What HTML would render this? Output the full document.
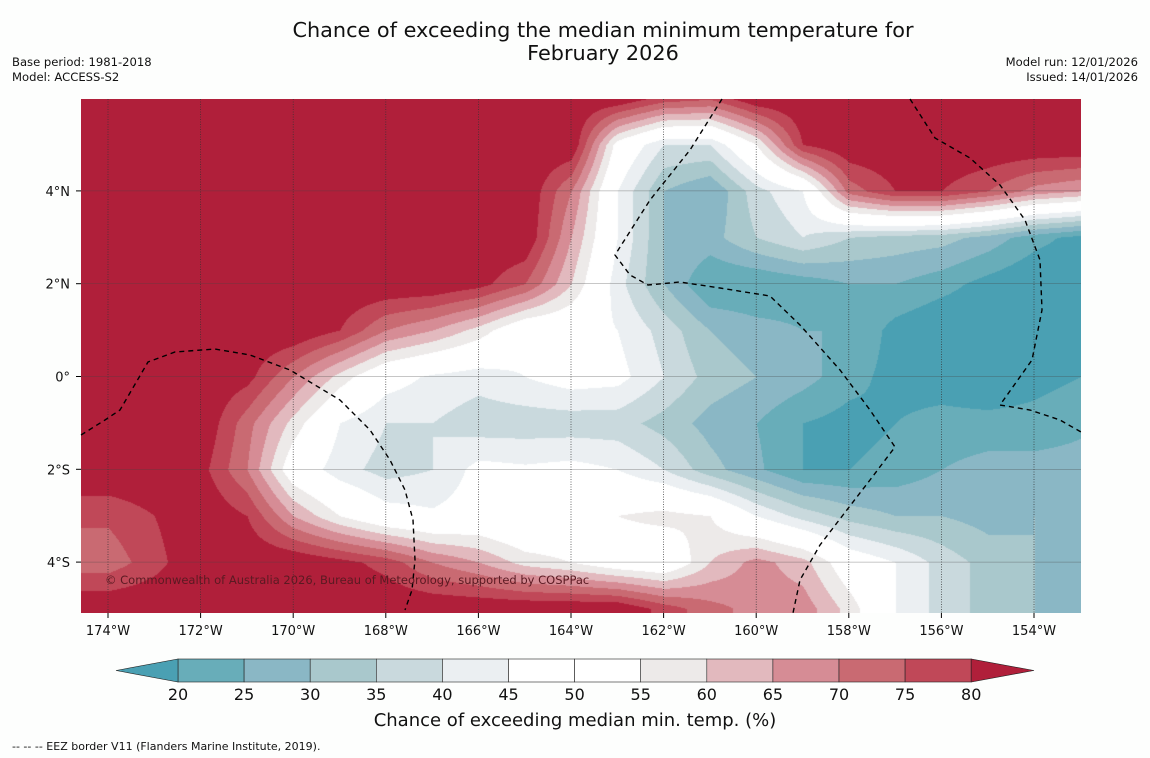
<!DOCTYPE html>
<html><head><meta charset="utf-8">
<style>
body{margin:0;background:#fdfefd;font-family:"DejaVu Sans","Liberation Sans",sans-serif;}
#wrap{position:relative;width:1150px;height:758px;overflow:hidden;background:#fdfefd;}
.t{position:absolute;white-space:nowrap;color:#111;}
</style></head>
<body>
<div id="wrap">
<div class="t" style="left:0;width:1206px;top:19px;text-align:center;font-size:20.8px;line-height:23px;">Chance of exceeding the median minimum temperature for<br>February 2026</div>
<div class="t" style="left:12px;top:55px;font-size:11.6px;line-height:15px;">Base period: 1981-2018<br>Model: ACCESS-S2</div>
<div class="t" style="right:12px;top:55px;font-size:11.6px;line-height:15px;text-align:right;">Model run: 12/01/2026<br>Issued: 14/01/2026</div>
<canvas id="map" width="1000" height="514" style="position:absolute;left:81px;top:99px;"></canvas>
<svg id="ov" width="1150" height="758" style="position:absolute;left:0;top:0;"></svg>
<div class="t" style="left:105px;top:573px;font-size:11.5px;color:#5a1a22;">© Commonwealth of Australia 2026, Bureau of Meteorology, supported by COSPPac</div>
<div class="t" style="left:0;width:1150px;top:710px;text-align:center;font-size:18px;">Chance of exceeding median min. temp. (%)</div>
<div class="t" style="left:12px;top:740px;font-size:11px;">--  --  -- EEZ border V11 (Flanders Marine Institute, 2019).</div>
</div>
<script>
const levels=[20,25,30,35,40,45,50,55,60,65,70,75,80];
const colors=["#4aa0b3","#68adb9","#8ab7c5","#a9c8cc","#c9d9dd","#ebeff2","#ffffff","#ffffff","#edeae9","#e2b9be","#d68c95","#c96a72","#c04858","#b01f3a"];
const lons=[-175,-174,-173,-172,-171,-170,-169,-168,-167,-166,-165,-164,-163,-162,-161,-160,-159,-158,-157,-156,-155,-154,-153];
const lats=[6,5,4,3,2,1,0,-1,-2,-3,-4,-5];
const row6=[85,85,85,85,85,85,85,85,85,85,85,85,85,78,76,85,85,85,85,85,85,85,85];
const row5=[85,85,85,85,85,85,85,85,85,85,85,85,52,40,40,55,80,85,85,85,85,85,85];
const row4=[85,85,85,85,85,85,85,85,85,85,85,70,45,30,25,38,45,72,80,80,75,68,65];
const row3=[85,85,85,85,85,85,85,85,85,85,85,65,45,30,28,35,40,35,33,32,28,22,18];
const row2=[85,85,85,85,85,85,85,85,85,82,75,60,42,30,20,20,22,25,25,22,18,15,15];
const row1=[85,85,85,85,85,85,80,70,65,58,48,48,45,38,30,27,25,25,18,15,15,15,15];
const row0=[85,85,85,85,82,70,58,48,44,42,45,48,47,40,33,30,27,22,18,17,15,18,20];
const rowm1=[85,85,85,85,72,58,45,40,40,37,37,37,37,33,28,25,20,18,20,22,22,22,24];
const rowm2=[85,85,85,82,70,50,42,38,40,47,46,47,45,40,32,26,20,20,22,25,27,27,27];
const rowm3=[76,76,80,85,80,65,55,48,46,48,45,47,55,57,55,45,38,33,30,30,28,30,27];
const rowm4=[72,72,78,85,85,85,82,78,70,65,58,55,50,48,60,67,62,50,45,38,33,30,28];
const rowm5=[85,85,85,85,85,85,85,85,85,85,85,85,85,78,72,68,68,58,45,38,33,30,25];
const grid=[row6,row5,row4,row3,row2,row1,row0,rowm1,rowm2,rowm3,rowm4,rowm5];
const lonTicks=[-174,-172,-170,-168,-166,-164,-162,-160,-158,-156,-154];
const latTicks=[4,2,0,-2,-4];

const X=lon=>108+(lon+174)*46.3;
const Y=lat=>376.5-lat*46.4;
function val(lon,lat){
  let fi=(lon-lons[0])/(lons[1]-lons[0]);let fj=(lats[0]-lat)/(lats[0]-lats[1]);
  fi=Math.max(0,Math.min(lons.length-1.001,fi));fj=Math.max(0,Math.min(lats.length-1.001,fj));
  const i=Math.floor(fi),j=Math.floor(fj),a=fi-i,b=fj-j;
  return grid[j][i]*(1-a)*(1-b)+grid[j][i+1]*a*(1-b)+grid[j+1][i]*(1-a)*b+grid[j+1][i+1]*a*b;
}
function col(v){let k=0;while(k<levels.length&&v>=levels[k])k++;return colors[k];}
const cv=document.getElementById('map'),ctx=cv.getContext('2d');
const img=ctx.createImageData(1000,514);
const cache={};
function rgb(h){if(!cache[h])cache[h]=[parseInt(h.substr(1,2),16),parseInt(h.substr(3,2),16),parseInt(h.substr(5,2),16)];return cache[h];}
for(let py=0;py<514;py++)for(let px=0;px<1000;px++){
  const lon=(px+81-108)/46.3-174, lat=(376.5-(py+99))/46.4;
  const c=rgb(col(val(lon,lat)));const o=(py*1000+px)*4;
  img.data[o]=c[0];img.data[o+1]=c[1];img.data[o+2]=c[2];img.data[o+3]=255;
}
ctx.putImageData(img,0,0);

const NS='http://www.w3.org/2000/svg',ov=document.getElementById('ov');
const FF='DejaVu Sans, Liberation Sans, sans-serif';
function mk(t,a){const e=document.createElementNS(NS,t);for(const k in a)e.setAttribute(k,a[k]);ov.appendChild(e);return e;}
lonTicks.forEach(l=>{
  const x=X(l);
  const g=mk('line',{x1:x,x2:x,y1:99,y2:613,stroke:'#333','stroke-width':0.7,'stroke-dasharray':'1,1.5'});
  
  
  mk('line',{x1:x,x2:x,y1:613,y2:618,stroke:'#000'});
  const t=mk('text',{x:x,y:635,'text-anchor':'middle','font-size':13,'font-family':FF,fill:'#111'});
  t.textContent=Math.abs(l)+'°W';
  
  
});
latTicks.forEach(l=>{
  const y=Y(l);
  const g=mk('line',{x1:81,x2:1081,y1:y,y2:y,stroke:'#444','stroke-width':0.5,'stroke-opacity':0.6});
  
  
  mk('line',{x1:76,x2:81,y1:y,y2:y,stroke:'#000'});
  const t=mk('text',{x:70,y:y+5,'text-anchor':'end','font-size':13,'font-family':FF,fill:'#111'});
  t.textContent=l===0?'0°':Math.abs(l)+'°'+(l>0?'N':'S');
  
  
});
const eez=[
 "M81,435 L105,420 L120,410 L148,362 L175,352 L215,349 L250,355 L290,370 L340,400 L370,430 L390,460 L405,490 L413,520 L415,560 L412,590 L405,610",
 "M722,99 L690,150 L650,200 L615,255 L630,275 L648,285 L680,282 L720,288 L770,296 L800,325 L840,370 L870,410 L895,447 L870,480 L843,515 L820,545 L800,580 L793,613",
 "M910,99 L935,138 L970,158 L1000,185 L1025,220 L1040,260 L1042,310 L1032,360 L1000,405 L1030,410 L1060,420 L1081,432"
];
eez.forEach(d=>{const p=mk('path',{d:d,fill:'none',stroke:'#000','stroke-width':1.4,'stroke-dasharray':'5,4'});
  
  });
const cbx0=178,cbw=66.1,cby=659,cbh=23;
for(let k=0;k<12;k++){
  const r=mk('rect',{x:cbx0+k*cbw,y:cby,width:cbw,height:cbh,fill:colors[k+1],stroke:'#222','stroke-width':0.6});
  
  
}
const lt=mk('polygon',{points:`${cbx0},${cby} ${cbx0},${cby+cbh} 116,${cby+cbh/2}`,fill:colors[0],stroke:'#222','stroke-width':0.6});


const hx=cbx0+12*cbw;
const rt=mk('polygon',{points:`${hx},${cby} ${hx},${cby+cbh} 1034,${cby+cbh/2}`,fill:colors[13],stroke:'#222','stroke-width':0.6});


levels.forEach((v,k)=>{
  const t=mk('text',{x:cbx0+k*cbw,y:700,'text-anchor':'middle','font-size':16,'font-family':FF,fill:'#111'});
  t.textContent=v;
  
  
});
</script>
</body></html>
